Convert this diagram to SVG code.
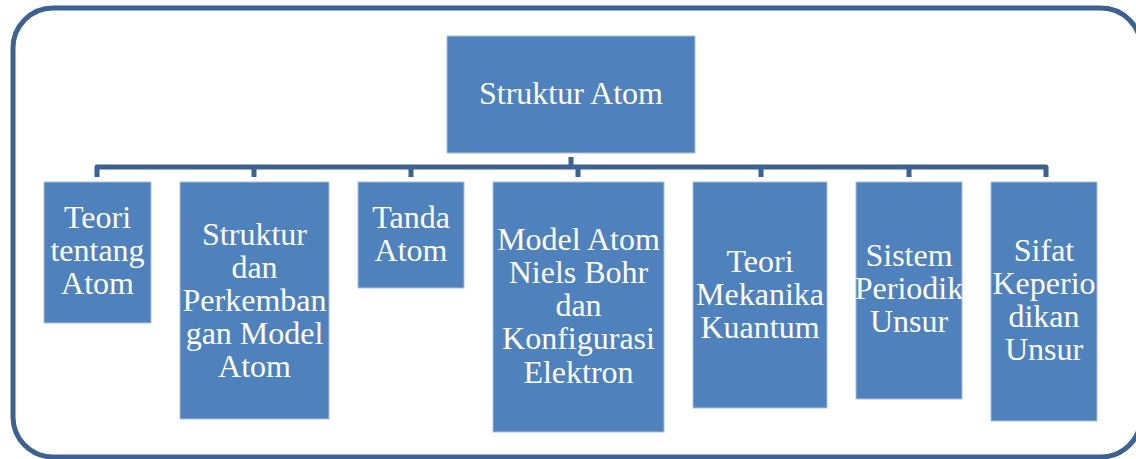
<svg xmlns="http://www.w3.org/2000/svg" width="1136" height="459" viewBox="0 0 1136 459">
  <style>
    .box { fill: #4f81bd; stroke: #a9c2e2; stroke-width: 1; }
    .lbl { font-family: "Liberation Serif", "Times New Roman", serif; font-size: 32px; fill: #ffffff; text-anchor: middle; }
    .wire { fill: none; stroke: #3d6190; stroke-width: 5; stroke-linejoin: round; }
    .frame { fill: #ffffff; stroke: #3d6190; stroke-width: 5; }
  </style>

  <!-- outer rounded frame -->
  <rect class="frame" x="13" y="8" width="1128" height="449" rx="40" ry="40"/>

  <!-- connectors: org-chart bracket -->
  <g id="connectors">
    <path class="wire" d="M571 157 V167"/>
    <path class="wire" d="M97 177 V167 H1046 V177"/>
    <path class="wire" d="M254 167 V177 M411 167 V177 M578 167 V177 M761 167 V177 M909 167 V177"/>
  </g>

  <g id="root">
    <rect class="box" x="447" y="36" width="248" height="117"/>
    <text class="lbl" x="571" y="104">Struktur Atom</text>
  </g>

  <g id="teori-tentang-atom">
    <rect class="box" x="44" y="182" width="107" height="141"/>
    <text class="lbl" x="97.5" y="228">Teori</text>
    <text class="lbl" x="97.5" y="261">tentang</text>
    <text class="lbl" x="97.5" y="294">Atom</text>
  </g>

  <g id="struktur-perkembangan">
    <rect class="box" x="180" y="182" width="149" height="237"/>
    <text class="lbl" x="254.5" y="245">Struktur</text>
    <text class="lbl" x="254.5" y="278">dan</text>
    <text class="lbl" x="254.5" y="311">Perkemban</text>
    <text class="lbl" x="254.5" y="344">gan Model</text>
    <text class="lbl" x="254.5" y="377">Atom</text>
  </g>

  <g id="tanda-atom">
    <rect class="box" x="358" y="182" width="106" height="106"/>
    <text class="lbl" x="411" y="228">Tanda</text>
    <text class="lbl" x="411" y="261">Atom</text>
  </g>

  <g id="model-bohr">
    <rect class="box" x="493" y="182" width="171" height="250"/>
    <text class="lbl" x="578.5" y="250">Model Atom</text>
    <text class="lbl" x="578.5" y="283">Niels Bohr</text>
    <text class="lbl" x="578.5" y="316">dan</text>
    <text class="lbl" x="578.5" y="349">Konfigurasi</text>
    <text class="lbl" x="578.5" y="383">Elektron</text>
  </g>

  <g id="mekanika-kuantum">
    <rect class="box" x="693" y="182" width="134" height="226"/>
    <text class="lbl" x="760" y="272">Teori</text>
    <text class="lbl" x="760" y="305">Mekanika</text>
    <text class="lbl" x="760" y="338">Kuantum</text>
  </g>

  <g id="sistem-periodik">
    <rect class="box" x="856" y="182" width="106" height="217"/>
    <text class="lbl" x="909" y="266">Sistem</text>
    <text class="lbl" x="909" y="299">Periodik</text>
    <text class="lbl" x="909" y="332">Unsur</text>
  </g>

  <g id="sifat-keperiodikan">
    <rect class="box" x="991" y="182" width="106" height="239"/>
    <text class="lbl" x="1044" y="261">Sifat</text>
    <text class="lbl" x="1044" y="294">Keperio</text>
    <text class="lbl" x="1044" y="327">dikan</text>
    <text class="lbl" x="1044" y="360">Unsur</text>
  </g>
</svg>
